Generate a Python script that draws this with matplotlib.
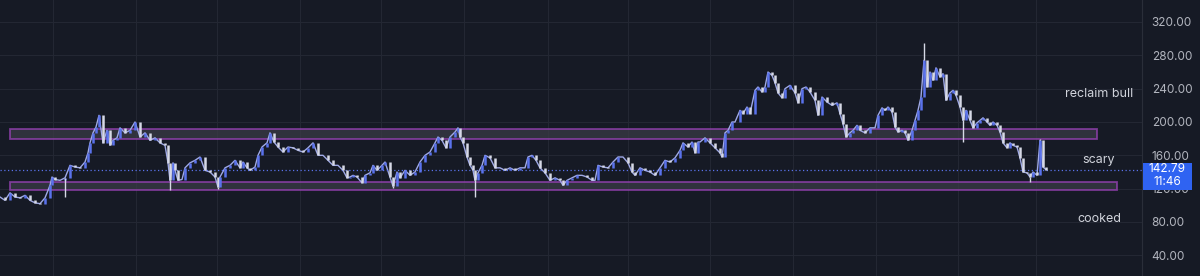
import matplotlib
matplotlib.use("Agg")
import matplotlib.pyplot as plt
import matplotlib.transforms as mtransforms
from matplotlib.patches import Rectangle
import numpy as np

# bar time (bar number) and close price
bar_time = [
    0, 5, 10, 15, 20, 25, 30, 35, 40, 45, 50, 52, 55, 60, 65, 70, 75, 80, 85, 88,
    90, 93, 96, 99, 103, 107, 110, 113, 117, 120, 125, 130, 135, 140, 145, 150, 155, 160, 165, 168,
    170, 173, 175, 178, 182, 185, 190, 195, 200, 205, 210, 215, 218, 220, 225, 230, 235, 240, 243, 247,
    250, 255, 258, 262, 267, 270, 274, 278, 283, 288, 293, 298, 303, 308, 313, 318, 323, 328, 333, 338,
    343, 347, 350, 353, 357, 362, 365, 370, 373, 377, 382, 385, 390, 393, 397, 400, 405, 410, 415, 420,
    425, 430, 435, 438, 442, 446, 450, 455, 458, 460, 463, 467, 470, 473, 475, 478, 482, 485, 490, 495,
    500, 505, 510, 515, 520, 525, 528, 532, 536, 540, 545, 550, 555, 560, 563, 567, 572, 577, 582, 587,
    592, 595, 598, 603, 608, 613, 618, 623, 628, 632, 635, 640, 645, 650, 655, 660, 665, 670, 675, 680,
    683, 688, 692, 695, 698, 700, 705, 710, 715, 720, 722, 725, 728, 732, 735, 740, 743, 747, 750, 755,
    758, 762, 765, 768, 772, 775, 778, 782, 785, 790, 795, 798, 802, 806, 810, 815, 818, 822, 827, 832,
    837, 840, 843, 846, 850, 853, 857, 860, 865, 870, 875, 878, 882, 885, 888, 892, 895, 898, 902, 905,
    908, 912, 915, 918, 921, 924, 927, 930, 933, 936, 940, 943, 946, 950, 953, 956, 960, 963, 966, 970,
    973, 977, 980, 983, 987, 990, 993, 997, 1000, 1003, 1007, 1010, 1013, 1017, 1020, 1023, 1027, 1030, 1033, 1037,
    1040, 1043, 1046,
]
close = [
    110, 106, 115, 110, 109, 112, 106, 103, 102, 109, 124, 134, 131, 130, 133, 148, 146, 145, 152, 163,
    175, 187, 194, 208, 175, 190, 172, 178, 181, 193, 187, 190, 200, 182, 187, 178, 181, 175, 172, 151,
    130, 151, 142, 130, 131, 145, 151, 154, 158, 142, 140, 134, 122, 134, 145, 148, 154, 145, 152, 145,
    142, 146, 160, 170, 175, 187, 176, 170, 164, 170, 169, 166, 164, 169, 175, 160, 160, 154, 148, 148,
    142, 133, 134, 136, 134, 127, 136, 139, 148, 142, 148, 152, 134, 123, 140, 133, 142, 136, 140, 152,
    160, 164, 175, 182, 178, 169, 182, 188, 193, 182, 175, 158, 148, 142, 130, 139, 148, 160, 157, 145,
    145, 142, 145, 142, 145, 145, 158, 160, 154, 145, 139, 130, 133, 130, 124, 130, 133, 136, 136, 134,
    130, 130, 148, 146, 145, 152, 158, 158, 151, 140, 136, 145, 142, 140, 136, 145, 154, 152, 157, 166,
    175, 170, 176, 163, 176, 176, 181, 175, 169, 163, 158, 187, 190, 200, 200, 214, 210, 218, 210, 238,
    242, 236, 242, 260, 256, 247, 235, 229, 240, 244, 235, 223, 240, 242, 236, 226, 208, 230, 224, 220,
    223, 210, 198, 182, 187, 190, 196, 190, 187, 193, 193, 208, 217, 214, 218, 212, 194, 188, 190, 187,
    178, 190, 202, 214, 230, 274, 242, 260, 250, 265, 254, 258, 226, 235, 238, 232, 218, 202, 214, 202,
    193, 199, 202, 205, 200, 196, 200, 196, 188, 175, 169, 175, 172, 170, 157, 140, 139, 134, 140, 136,
    178, 146, 142.79,
]

# long wicks that stick out of the line
wick_time = [65, 170, 218, 393, 475, 924, 963, 1030, 1040]
wick_price = [110, 118, 120, 121, 110, 295, 176, 128, 180]

# zones drawn on the chart (start bar, end bar, low, high)
zone_start = [10, 10]
zone_end = [1097, 1117]
zone_low = [179.6, 118.4]
zone_high = [191.2, 128.4]

notes = ["reclaim bull", "scary", "cooked"]
note_price = [233.6, 154.4, 83.6]
note_time = 1099

last_price = 142.79
countdown = "11:46"
price_ticks = [40, 80, 120, 160, 200, 240, 280, 320]
month_lines = [53, 136, 217, 300, 381, 464, 548, 628, 710, 793, 876, 958, 1036]

bg = "#161a25"
grid = "#232733"
up_col = "#5a72ec"
down_col = "#d6d9e6"
zone_edge = "#9a42b8"
text_col = "#d1d4dc"

plt.rcParams["font.family"] = ["Inter", "DejaVu Sans"]

fig = plt.figure(figsize=(12, 2.76), dpi=100, facecolor=bg)
ax = fig.add_axes([0, 0, 1142 / 1200, 1])
ax.set_facecolor(bg)
ax.set_xlim(0, 1142)
ax.set_ylim(15.2, 346.4)

for t in month_lines:
    ax.axvline(t, color=grid, lw=0.8, zorder=0)
for p in price_ticks:
    ax.axhline(p, color=grid, lw=0.8, zorder=0)

# zones
for s, e, lo, hi in zip(zone_start, zone_end, zone_low, zone_high):
    ax.add_patch(Rectangle((s, lo), e - s, hi - lo, facecolor="#3a3b46", alpha=0.75,
                           edgecolor=zone_edge, lw=1.3, zorder=1))

# candles: open is the previous close
t = np.array(bar_time, dtype=float)
c = np.array(close, dtype=float)
o = np.concatenate(([c[0]], c[:-1]))
cols = [up_col if cc >= oo else down_col for oo, cc in zip(o, c)]
ax.plot(t, c, color="#9fa9e6", lw=1.0, zorder=2)
ax.vlines(t, np.minimum(o, c), np.maximum(o, c), colors=cols, lw=1.8, zorder=3)
wick_close = [c[bar_time.index(w)] for w in wick_time]
ax.vlines(wick_time, np.minimum(wick_close, wick_price), np.maximum(wick_close, wick_price),
          colors=down_col, lw=1.0, zorder=3)

# last price line
ax.axhline(last_price, color="#5a72ec", lw=0.9, ls=(0, (1, 2)), zorder=2)

for txt, p in zip(notes, note_price):
    ax.text(note_time, p, txt, color=text_col, fontsize=9, ha="center", va="center", zorder=4)

# price scale on the right
ax.yaxis.tick_right()
ax.set_yticks(price_ticks)
ax.set_yticklabels([f"{p:.2f}" for p in price_ticks], color="#b2b5be", fontsize=8.5)
ax.tick_params(axis="y", length=0, pad=7)
ax.set_xticks([])
for sp in ["top", "bottom", "left"]:
    ax.spines[sp].set_visible(False)
ax.spines["right"].set_color("#2a2e39")

# last price label (covers the 120.00 tick like in the original)
trans = mtransforms.blended_transform_factory(ax.transAxes, ax.transData)
ax.add_patch(Rectangle((1.0008, last_price - 20 * 1.2), 49 / 1142, 27 * 1.2, transform=trans,
                       facecolor="#2f63f2", edgecolor="none", clip_on=False, zorder=5))
ax.text(1.0008 + 24.5 / 1142, last_price + 0.5, f"{last_price:.2f}", transform=trans, color="white",
        fontsize=8.5, ha="center", va="center", zorder=6, clip_on=False)
ax.text(1.0008 + 24.5 / 1142, last_price - 14.5, countdown, transform=trans, color="white",
        fontsize=8.5, ha="center", va="center", zorder=6, clip_on=False)

fig.savefig("out.png", dpi=100, facecolor=bg)
